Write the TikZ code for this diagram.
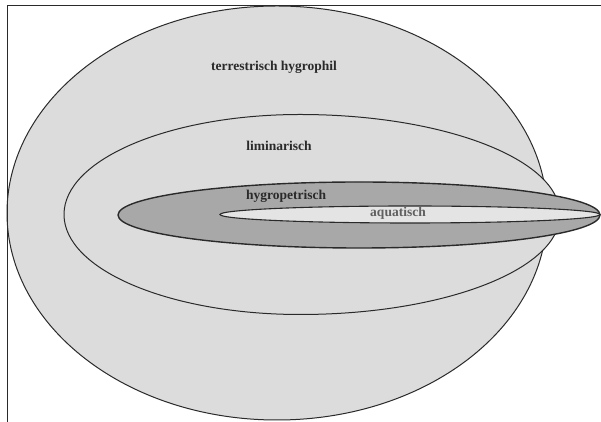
\documentclass[tikz,border=0pt]{standalone}
\usepackage{fontspec}
\setmainfont{Liberation Serif}
\definecolor{lightfill}{HTML}{DCDCDC}
\definecolor{innerfill}{HTML}{E4E4E4}
\definecolor{darkfill}{HTML}{A8A8A8}
\definecolor{edge}{HTML}{2A2A2A}
\definecolor{txt}{HTML}{2A2A2A}
\tikzset{
  zone/.style={draw=edge, line width=1pt},
  label/.style={font=\fontsize{13.5}{16}\selectfont\bfseries, text=txt, inner sep=0pt},
  framebar/.style={draw=edge, line width=1pt}
}
\begin{document}
\begin{tikzpicture}[x=1pt,y=1pt]
\useasboundingbox (0,0) rectangle (601,422);
\fill[white] (0,0) rectangle (601,422);
% terrestrisch hygrophil
\filldraw[zone, fill=lightfill] (277,209) ellipse [x radius=270pt, y radius=207pt];
% liminarisch (egg shape, pointed to the right)
\filldraw[zone, fill=lightfill] (300,307.5)
  arc[start angle=90, end angle=270, x radius=236pt, y radius=100pt]
  arc[start angle=270, end angle=450, x radius=260pt, y radius=100pt] -- cycle;
% hygropetrisch
\filldraw[zone, line width=1.4pt, fill=darkfill] (359,207) ellipse [x radius=241pt, y radius=33pt];
% aquatisch
\filldraw[zone, line width=1.1pt, fill=innerfill] (410,207.5) ellipse [x radius=190pt, y radius=8.5pt];
% labels
\node[label] (terr) at (274,355) {terrestrisch hygrophil};
\node[label] (limi) at (279,276) {liminarisch};
\node[label] (hygr) at (286,226) {hygropetrisch};
\node[label, text=txt!75] (aqua) at (398,209) {aquatisch};
% frame (left and top edges)
\coordinate (fbl) at (7,0);
\coordinate (ftl) at (7,416);
\coordinate (ftr) at (601,416);
\draw[framebar] (fbl) -- (ftl) -- (ftr);
\end{tikzpicture}
\end{document}
